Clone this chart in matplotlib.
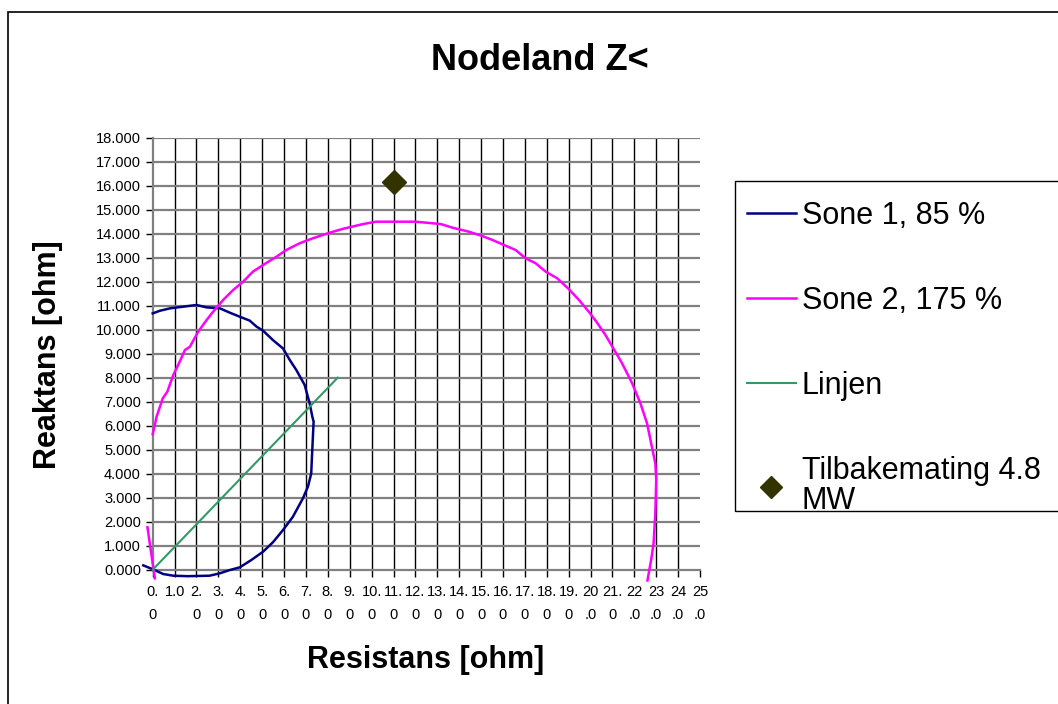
import numpy as np
import matplotlib
matplotlib.use("Agg")
from matplotlib import pyplot as plt
from matplotlib.patches import Rectangle

plt.rcParams['font.family'] = ['Liberation Sans', 'DejaVu Sans']

# Sone 1, 85 %
sone1_x = [-0.43, 0.0, 0.48, 0.94, 1.6, 2.6, 3.07, 3.5, 3.98, 4.5, 5.04, 5.5,
           5.95, 6.4, 6.86, 7.09, 7.24, 7.29, 7.35, 7.29, 7.17, 6.94, 6.56,
           6.26, 5.95, 5.49, 5.04, 4.74, 4.43, 3.98, 3.52, 3.07, 2.46, 2.0,
           1.4, 0.79, 0.33, 0.0]
sone1_y = [0.18, 0.02, -0.18, -0.25, -0.27, -0.25, -0.15, -0.02, 0.1, 0.4,
           0.75, 1.15, 1.65, 2.2, 2.97, 3.46, 4.0, 5.0, 6.17, 6.38, 6.93, 7.7,
           8.32, 8.74, 9.22, 9.57, 9.96, 10.13, 10.38, 10.54, 10.71, 10.89,
           10.93, 11.03, 10.96, 10.89, 10.79, 10.68]

# Sone 2, 175 %
sone2_x = [0.0, 0.18, 0.46, 0.67, 0.94, 1.2, 1.47, 1.7, 2.08, 2.46, 2.76, 3.22,
           3.67, 4.13, 4.58, 5.12, 5.65, 6.1, 6.71, 7.32, 8.08, 8.68, 9.6,
           10.2, 11.0, 12.0, 12.6, 13.17, 13.7, 14.46, 15.06, 15.52, 15.97,
           16.58, 17.04, 17.49, 17.95, 18.48, 19.0, 19.47, 19.92, 20.3, 20.68,
           20.98, 21.44, 21.9, 22.28, 22.58, 22.8, 22.96, 23.0, 22.96, 22.88,
           22.78, 22.6]
sone2_y = [5.65, 6.38, 7.14, 7.42, 8.11, 8.6, 9.15, 9.29, 9.92, 10.4, 10.75,
           11.24, 11.65, 12.0, 12.42, 12.74, 13.04, 13.32, 13.6, 13.81, 14.04,
           14.2, 14.4, 14.5, 14.5, 14.5, 14.45, 14.4, 14.25, 14.08, 13.9,
           13.74, 13.56, 13.32, 12.97, 12.77, 12.42, 12.14, 11.7, 11.24, 10.75,
           10.29, 9.78, 9.32, 8.6, 7.77, 6.93, 6.1, 5.13, 4.43, 3.74, 2.35,
           1.1, 0.47, -0.45]
sone2_tail_x = [-0.24, 0.1]
sone2_tail_y = [1.77, -0.36]

# Linjen
linjen_x = [0.0, 8.45]
linjen_y = [0.0, 8.0]

# Tilbakemating 4.8 MW
tilbake_x = [11.0]
tilbake_y = [16.15]

xticks = np.arange(0, 26, 1)
xticklabels = ['0.\n0', '1.0', '2.\n0', '3.\n0', '4.\n0', '5.\n0', '6.\n0',
               '7.\n0', '8.\n0', '9.\n0', '10.\n0', '11.\n0', '12.\n0',
               '13.\n0', '14.\n0', '15.\n0', '16.\n0', '17.\n0', '18.\n0',
               '19.\n0', '20\n.0', '21.\n0', '22\n.0', '23\n.0', '24\n.0',
               '25\n.0']
yticks = np.arange(0, 19, 1)

W, H = 1058, 704
fig = plt.figure(figsize=(W / 100, H / 100), dpi=100)
ax = fig.add_axes([152.7 / W, 1 - 569.7 / H, (700.0 - 152.7) / W, (569.7 - 137.7) / H])

ax.set_xlim(0, 25)
ax.set_ylim(0, 18)
for v in xticks[1:-1]:
    ax.axvline(v, color='black', lw=1.0, zorder=1)
for v in yticks[1:]:
    ax.axhline(v, color='#808080', lw=1.6, zorder=1)

ax.plot(sone1_x, sone1_y, color='#000080', lw=1.8, label='Sone 1, 85 %', clip_on=False, zorder=3)
ax.plot(sone2_x, sone2_y, color='#FF00FF', lw=1.8, label='Sone 2, 175 %', clip_on=False, zorder=3)
ax.plot(sone2_tail_x, sone2_tail_y, color='#FF00FF', lw=1.8, clip_on=False, zorder=3)
ax.plot(linjen_x, linjen_y, color='#339966', lw=1.5, label='Linjen', clip_on=False, zorder=3)
ax.plot(tilbake_x, tilbake_y, ls='none', marker='D', ms=12, color='#333300',
        label='Tilbakemating 4.8\nMW', zorder=4)

ax.set_xticks(xticks)
ax.set_xticklabels(xticklabels, fontsize=10.5, linespacing=1.85)
ax.set_yticks(yticks)
ax.set_yticklabels(['%.3f' % v for v in yticks], fontsize=10.5)
ax.tick_params(axis='both', direction='out', length=5, width=1, color='black')
ax.tick_params(axis='x', pad=6)

for s in ['top', 'right']:
    ax.spines[s].set_visible(False)
for s in ['left', 'bottom']:
    ax.spines[s].set_color('#808080')
    ax.spines[s].set_linewidth(1.6)

fig.text(540 / W, 1 - 61 / H, 'Nodeland Z<', fontsize=26, fontweight='bold',
         ha='center', va='center')
fig.text(426 / W, 1 - 660 / H, 'Resistans [ohm]', fontsize=22, fontweight='bold',
         ha='center', va='center')
fig.text(48 / W, 1 - 355 / H, 'Reaktans [ohm]', fontsize=22, fontweight='bold',
         ha='center', va='center', rotation=90)

leg = fig.legend(loc='upper left', bbox_to_anchor=(727 / W, 1 - 181 / H),
                 fontsize=22, frameon=False,
                 handlelength=1.6, handletextpad=0.2, labelspacing=1.8,
                 borderpad=0.65, borderaxespad=0, markerscale=0.9)
leg.get_texts()[3].set_linespacing(1.0)

# legend box, running off the right edge
fig.patches.append(Rectangle((735 / W, 1 - 511 / H), 0.4, (511 - 181) / H,
                             transform=fig.transFigure, fill=False,
                             edgecolor='black', lw=1.0))

# outer chart frame, running off the right and bottom edges
fig.patches.append(Rectangle((8 / W, -0.1), 1.2, 1 - 12 / H + 0.1,
                             transform=fig.transFigure, fill=False,
                             edgecolor='black', lw=1.2))

fig.savefig('out.png', dpi=100)
